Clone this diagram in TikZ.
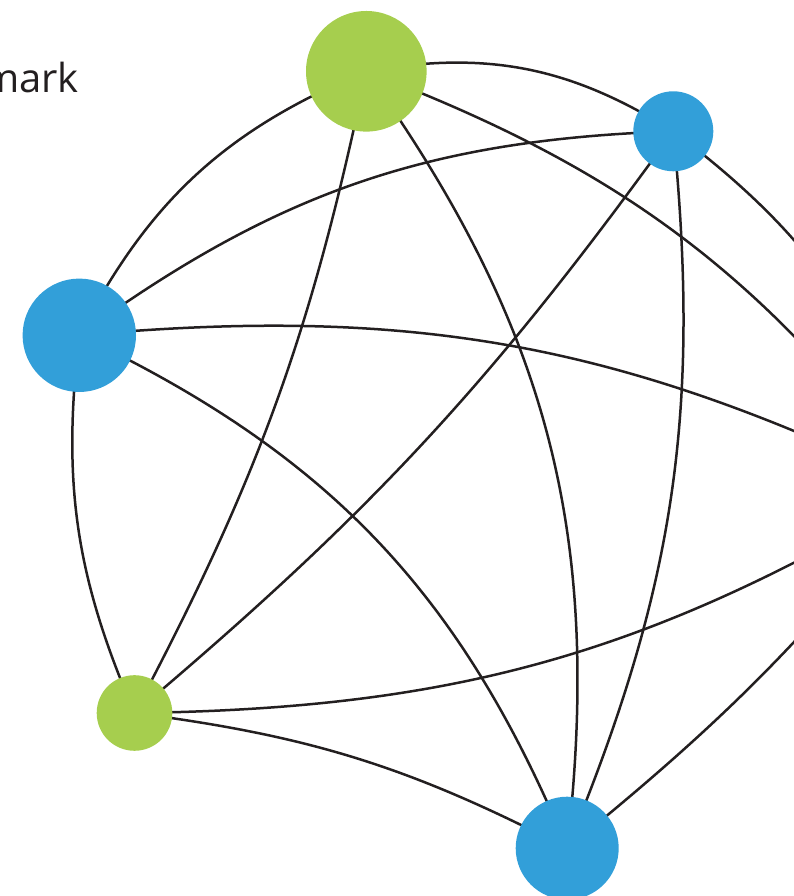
\documentclass[tikz,border=0pt]{standalone}
\usepackage{fontspec}
\usepackage{tikz}
\usetikzlibrary{backgrounds}
\newfontfamily\headfont{Open Sans}
\definecolor{nodegreen}{RGB}{166, 206, 78}
\definecolor{nodeblue}{RGB}{50, 159, 217}
\definecolor{ink}{RGB}{35, 31, 32}

\begin{document}
\begin{tikzpicture}[x=1pt, y=1pt,
    vert/.style={circle, inner sep=0pt, draw=none},
    link/.style={draw=ink, line width=2.5pt}]
    \useasboundingbox (0, 0) rectangle (794, 896);

    % Title (cut off at the left)
    \node[anchor=base east, inner sep=0pt, text=ink,
          font=\headfont\fontsize{40}{48}\selectfont] (caption) at (79, 803.7) {mark};

    % Vertices
    \node[vert, fill=nodegreen, minimum size=120.6] (g1) at (366.3, 824.7) {};
    \node[vert, fill=nodeblue, minimum size=80] (b1) at (673.3, 764.7) {};
    \node[vert, fill=nodeblue, minimum size=113.4] (b2) at (79.3, 560.7) {};
    \node[vert, fill=nodegreen, minimum size=75.6] (g2) at (134.5, 183) {};
    \node[vert, fill=nodeblue, minimum size=103] (b3) at (567.2, 47.8) {};
    \coordinate (east) at (925, 406);

    % Edges
    \begin{scope}[on background layer]
    \draw[link] (g1.center) to[bend left=21] (b1.center);
    \draw[link] (g1.center) to[bend left=16] (east);
    \draw[link] (b2.center) to[bend left=20] (g1.center);
    \draw[link] (g1.center) to[bend left=8] (g2.center);
    \draw[link] (g1.center) to[bend left=21] (b3.center);
    \draw[link] (b2.center) to[bend left=17] (b1.center);
    \draw[link] (b1.center) to[bend left=7] (g2.center);
    \draw[link] (b1.center) to[bend left=14] (b3.center);
    \draw[link] (b1.center) to[bend left=18] (east);
    \draw[link] (b2.center) to[bend left=15.5] (east);
    \draw[link] (b2.center) to[bend right=15] (g2.center);
    \draw[link] (b2.center) to[bend left=21] (b3.center);
    \draw[link] (g2.center) to[bend right=15] (east);
    \draw[link] (g2.center) to[bend left=10] (b3.center);
    \draw[link] (b3.center) to[bend right=6] (east);
    \end{scope}
\end{tikzpicture}
\end{document}
